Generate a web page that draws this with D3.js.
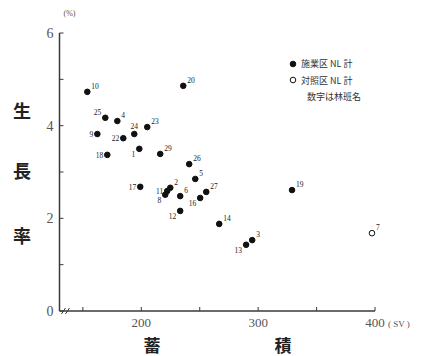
<!DOCTYPE html>
<html>
<head>
<meta charset="utf-8">
<script src="https://cdn.jsdelivr.net/npm/d3@7"></script>
<style>
  body { margin: 0; background: #fff; }
  svg { display: block; opacity: 0.999; }
</style>
</head>
<body>
<script>
var w = 425, h = 356;

// 林班名, 蓄積 (SV), 生長率 (%), 区分 (1 = 施業区, 0 = 対照区)
var ids    = ["10", "20", "25", "4", "9", "22", "24", "23", "18", "1", "29", "26", "5", "17", "11", "2", "8", "6", "27", "16", "12", "14", "3", "13", "19", "7"];
var stock  = [153.8, 235.9, 169.2, 179.5, 162.4, 184.6, 194.0, 205.1, 170.9, 198.3, 216.2, 241.0, 246.2, 199.1, 222.2, 224.8, 220.5, 233.3, 255.6, 250.4, 233.3, 266.7, 294.9, 289.7, 329.0, 397.4];
var growth = [4.73, 4.86, 4.17, 4.10, 3.82, 3.73, 3.82, 3.97, 3.37, 3.50, 3.39, 3.17, 2.85, 2.68, 2.59, 2.66, 2.51, 2.48, 2.57, 2.44, 2.16, 1.88, 1.53, 1.43, 2.61, 1.68];
var kind   = [1, 1, 1, 1, 1, 1, 1, 1, 1, 1, 1, 1, 1, 1, 1, 1, 1, 1, 1, 1, 1, 1, 1, 1, 1, 0];

var xTicks = [150, 200, 250, 300, 350, 400];
var xLabels = [200, 300, 400];
var yTicks = [0, 1, 2, 3, 4, 5, 6];
var yLabels = [0, 2, 4, 6];

var legendText = ["施業区 NL 計", "対照区 NL 計", "数字は林班名"];

// which side the small number sits on (default: upper right)
var side = {"25": "ul", "24": "u", "9": "l", "22": "l", "18": "l", "1": "ll", "17": "l", "11": "l", "8": "ll", "16": "ll", "12": "ll", "13": "ll"};

var x = d3.scaleLinear().domain([130, 400]).range([59.5, 375]);
var y = d3.scaleLinear().domain([0, 6]).range([311, 33]);

var svg = d3.select("body").append("svg")
    .attr("width", w)
    .attr("height", h);

var ink = "#3a3a3a";

// y axis
svg.append("line")
    .attr("x1", x(130)).attr("x2", x(130))
    .attr("y1", y(0)).attr("y2", y(6))
    .attr("stroke", ink).attr("stroke-width", 1.5);

svg.selectAll(".ytick")
    .data(yTicks)
    .enter().append("line")
    .attr("x1", x(130)).attr("x2", x(130) + 4)
    .attr("y1", function(d) { return y(d); })
    .attr("y2", function(d) { return y(d); })
    .attr("stroke", ink).attr("stroke-width", 1);

svg.selectAll(".ylab")
    .data(yLabels)
    .enter().append("text")
    .attr("x", x(130) - 6)
    .attr("y", function(d) { return y(d); })
    .attr("dy", "0.35em")
    .attr("text-anchor", "end")
    .attr("font-family", "Liberation Serif, serif")
    .attr("font-size", 14)
    .attr("fill", "#555")
    .text(function(d) { return d; });

// x axis
svg.append("line")
    .attr("x1", x(130)).attr("x2", x(400))
    .attr("y1", y(0)).attr("y2", y(0))
    .attr("stroke", ink).attr("stroke-width", 1.5);

svg.selectAll(".xtick")
    .data(xTicks)
    .enter().append("line")
    .attr("x1", function(d) { return x(d); })
    .attr("x2", function(d) { return x(d); })
    .attr("y1", y(0)).attr("y2", y(0) - 4)
    .attr("stroke", ink).attr("stroke-width", 1);

svg.selectAll(".xlab")
    .data(xLabels)
    .enter().append("text")
    .attr("x", function(d) { return x(d); })
    .attr("y", y(0) + 16)
    .attr("text-anchor", "middle")
    .attr("font-family", "Liberation Serif, serif")
    .attr("font-size", 13)
    .attr("fill", "#555")
    .text(function(d) { return d; });

// axis break
[0, 4].forEach(function(o) {
    svg.append("line")
        .attr("x1", x(130) + 2 + o).attr("y1", y(0) + 3)
        .attr("x2", x(130) + 6 + o).attr("y2", y(0) - 3)
        .attr("stroke", ink).attr("stroke-width", 1);
});

// units
svg.append("text")
    .attr("x", x(130) + 10).attr("y", 16)
    .attr("text-anchor", "middle")
    .attr("font-family", "Liberation Serif, serif")
    .attr("font-size", 8).attr("fill", "#555")
    .text("(%)");

svg.append("text")
    .attr("x", x(400) + 13).attr("y", y(0) + 16)
    .attr("font-family", "Liberation Serif, serif")
    .attr("font-size", 9).attr("fill", "#555")
    .text("( SV )");

// axis titles
var cjk = "Noto Sans CJK JP, sans-serif";
[["生", 112], ["長", 172], ["率", 237]].forEach(function(t) {
    svg.append("text")
        .attr("x", 22).attr("y", t[1])
        .attr("dy", "0.35em")
        .attr("text-anchor", "middle")
        .attr("font-family", cjk).attr("font-weight", "bold")
        .attr("font-size", 18).attr("fill", "#222")
        .text(t[0]);
});
[["蓄", 152], ["積", 283]].forEach(function(t) {
    svg.append("text")
        .attr("x", t[1]).attr("y", 346)
        .attr("dy", "0.35em")
        .attr("text-anchor", "middle")
        .attr("font-family", cjk).attr("font-weight", "bold")
        .attr("font-size", 17).attr("fill", "#222")
        .text(t[0]);
});

// points
var pts = ids.map(function(id, i) {
    return {id: id, sv: stock[i], g: growth[i], k: kind[i]};
});

svg.selectAll(".pt")
    .data(pts)
    .enter().append("circle")
    .attr("cx", function(d) { return x(d.sv); })
    .attr("cy", function(d) { return y(d.g); })
    .attr("r", 2.8)
    .attr("fill", function(d) { return d.k ? "#111" : "#fff"; })
    .attr("stroke", "#111")
    .attr("stroke-width", 1);

svg.selectAll(".ptlab")
    .data(pts)
    .enter().append("text")
    .attr("x", function(d) {
        var s = side[d.id];
        if (s === "u") return x(d.sv);
        return x(d.sv) + (s ? -4 : 4);
    })
    .attr("y", function(d) {
        var s = side[d.id];
        if (s === "ll") return y(d.g) + 8;
        if (s === "l") return y(d.g) + 3;
        if (s === "u") return y(d.g) - 5;
        return y(d.g) - 3;
    })
    .attr("text-anchor", function(d) {
        var s = side[d.id];
        if (s === "u") return "middle";
        return s ? "end" : "start";
    })
    .attr("font-family", "Liberation Serif, serif")
    .attr("font-size", 7.5)
    .attr("fill", "#222")
    .text(function(d) { return d.id; });

// legend
var legend = svg.append("g").attr("transform", "translate(293,0)");
legend.selectAll("circle")
    .data([1, 0])
    .enter().append("circle")
    .attr("cx", 0)
    .attr("cy", function(d, i) { return 64 + i * 16; })
    .attr("r", 2.8)
    .attr("fill", function(d) { return d ? "#111" : "#fff"; })
    .attr("stroke", "#111");

legend.selectAll("text")
    .data(legendText)
    .enter().append("text")
    .attr("x", function(d, i) { return i < 2 ? 8 : 14; })
    .attr("y", function(d, i) { return 64 + i * 16.5; })
    .attr("dy", "0.35em")
    .attr("font-family", cjk)
    .attr("font-size", 9)
    .attr("fill", "#333")
    .text(function(d) { return d; });
</script>
</body>
</html>
